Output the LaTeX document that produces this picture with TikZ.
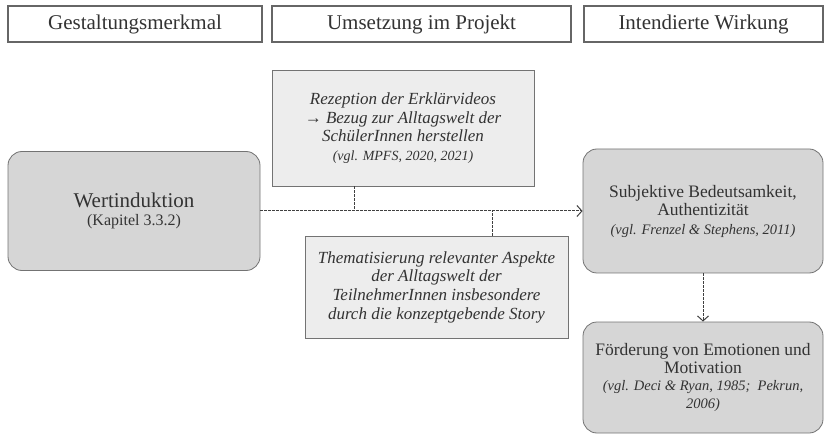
\documentclass[tikz,border=0pt]{standalone}
\usepackage{fontspec}
\setmainfont{Liberation Serif}
\usetikzlibrary{positioning,calc,arrows.meta}

\begin{document}
\begin{tikzpicture}[x=1pt,y=-1pt,
  head/.style = {draw=black!60, line width=1.3pt, fill=white, minimum height=36pt, inner sep=0pt, font=\fontsize{21}{24}\selectfont},
  grey/.style = {draw=black!55, line width=0.8pt, fill=black!16, rounded corners=14pt, align=center, inner sep=0pt},
  note/.style = {draw=black!55, line width=0.8pt, fill=black!7, align=center, inner sep=0pt, font=\itshape\fontsize{17}{18.7}\selectfont},
  link/.style = {draw=black!75, line width=1pt, dash pattern=on 2.5pt off 1.5pt, -{Straight Barb[length=5pt,width=11pt,line width=1pt]}},
  every node/.style = {text=black!80}]

\useasboundingbox (0,0) rectangle (826,435);

% column heads
\node[head, minimum width=254pt] (h1) at (135,24) {Gestaltungsmerkmal};
\node[head, minimum width=299pt] (h2) at (421.5,24) {Umsetzung im Projekt};
\node[head, minimum width=239pt] (h3) at (703.5,24) {Intendierte Wirkung};

% boxes
\node[grey, minimum width=252pt, minimum height=119pt, font=\fontsize{16}{18}\selectfont] (wert) at (134,211)
  {{\fontsize{21}{18}\selectfont Wertinduktion}\\ (Kapitel 3.3.2)};

\node[note, minimum width=262pt, minimum height=116pt] (video) at (403,128)
  {Rezeption der Erklärvideos\\ → Bezug zur Alltagswelt der\\ SchülerInnen herstellen\\
   {\fontsize{14}{18.7}\selectfont (vgl. MPFS, 2020, 2021)}};

\node[note, minimum width=263pt, minimum height=102pt] (story) at (436.5,287)
  {Thematisierung relevanter Aspekte\\ der Alltagswelt der\\ TeilnehmerInnen insbesondere\\ durch die konzeptgebende Story};

\node[grey, minimum width=240pt, minimum height=124pt, font=\fontsize{17.5}{18.5}\selectfont] (subj) at (703,211)
  {Subjektive Bedeutsamkeit,\\ Authentizität\\ {\itshape\fontsize{14.5}{18.5}\selectfont (vgl. Frenzel \& Stephens, 2011)}};

\node[grey, minimum width=240pt, minimum height=111pt, font=\fontsize{17.5}{17.5}\selectfont] (foerd) at (703,377.5)
  {Förderung von Emotionen und\\ Motivation\\ {\itshape\fontsize{14.5}{17.5}\selectfont (vgl. Deci \& Ryan, 1985;~~Pekrun,}\\
   {\itshape\fontsize{14.5}{17.5}\selectfont 2006)}};

% connectors
\coordinate (j1) at (354,211);
\coordinate (j2) at (492,211);

\draw[link] (wert.east) -- (subj.west);
\draw[link, -] (video.south -| j1) -- (j1);
\draw[link, -] (story.north -| j2) -- (j2);
\draw[link] (subj.south) -- (foerd.north);

\end{tikzpicture}
\end{document}
